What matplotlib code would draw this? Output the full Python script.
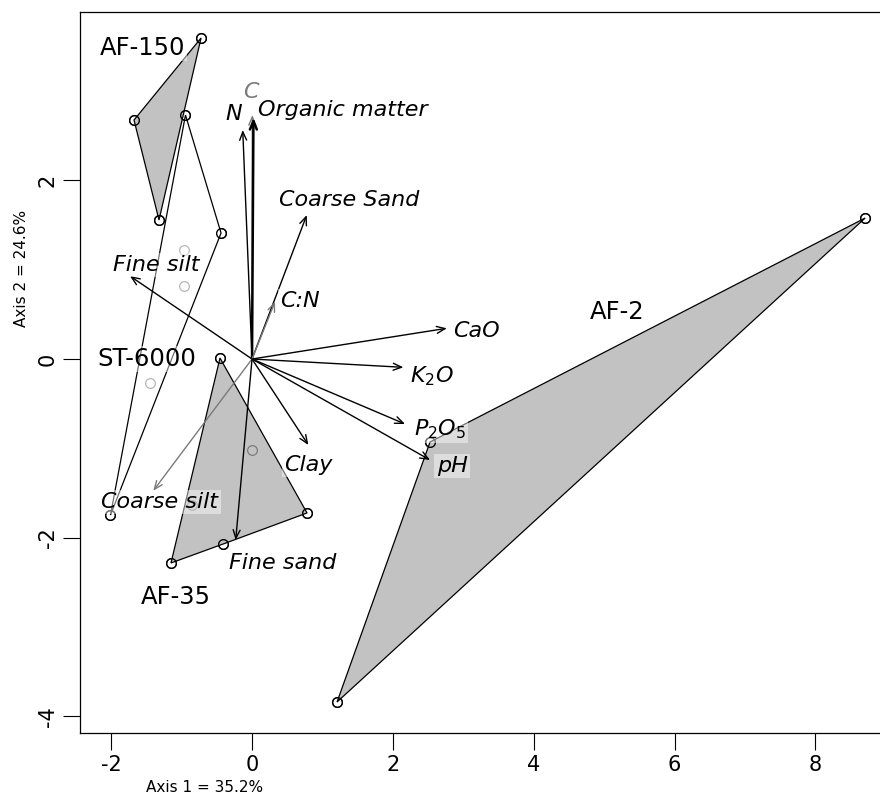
import numpy as np
import matplotlib.pyplot as plt
from matplotlib.patches import Polygon

plt.rcParams['font.family'] = ['DejaVu Sans']

# site scores per group (axis 1, axis 2)
af150_x = [-0.724, -1.676, -1.321]
af150_y = [3.595, 2.676, 1.557]
af150_hull = [0, 1, 2]

st6000_x = [-0.945, -0.440, -2.010, -0.966, -0.966, -1.449]
st6000_y = [2.732, 1.411, -1.747, 1.221, 0.817, -0.269]
st6000_hull = [0, 1, 2]

af35_x = [-0.455, 0.781, -0.412, -1.151, 0.000, -0.852]
af35_y = [0.011, -1.724, -2.072, -2.284, -1.019, -1.635]
af35_hull = [0, 1, 2, 3]

af2_x = [2.528, 8.707, 1.207]
af2_y = [-0.929, 1.579, -3.841]
af2_hull = [0, 1, 2]

group_names = ['AF-150', 'ST-6000', 'AF-35', 'AF-2']
group_label_x = [-1.55, -1.49, -1.08, 5.19]
group_label_y = [3.48, 0.00, -2.67, 0.53]

# environmental vectors
vec_names = ['N', 'C', 'Organic matter', 'Coarse Sand', 'Fine silt', 'C:N', 'CaO',
             '$K_2O$', '$P_2O_5$', 'pH', 'Clay', 'Coarse silt', 'Fine sand']
vec_x = [-0.132, 0.004, 0.020, 0.777, -1.733, 0.327, 2.766,
         2.149, 2.173, 2.528, 0.800, -1.402, -0.232]
vec_y = [2.564, 2.732, 2.700, 1.612, 0.929, 0.642, 0.344,
         -0.093, -0.728, -1.131, -0.963, -1.475, -2.027]
vec_label_x = [-0.256, -0.014, 1.293, 1.378, -1.364, 0.682, 3.182,
               2.557, 2.671, 2.841, 0.795, -1.307, 0.440]
vec_label_y = [2.744, 2.990, 2.788, 1.781, 1.053, 0.650, 0.314,
               -0.190, -0.784, -1.198, -1.187, -1.602, -2.284]
vec_grey = ['C', 'C:N', 'Coarse silt']

fig = plt.figure(figsize=(8.8, 8.01), dpi=100)
ax = fig.add_axes([80 / 880, 1 - 733 / 801, 802 / 880, 721 / 801])

groups = [
    (af150_x, af150_y, af150_hull, '#ababab'),
    (st6000_x, st6000_y, st6000_hull, 'white'),
    (af35_x, af35_y, af35_hull, '#ababab'),
    (af2_x, af2_y, af2_hull, '#ababab'),
]
for gx, gy, hull, fc in groups:
    ax.plot(gx, gy, 'o', mfc='none', mec='black', ms=7, mew=0.9, zorder=1)
    verts = np.column_stack([np.take(gx, hull), np.take(gy, hull)])
    ax.add_patch(Polygon(verts, closed=True, facecolor=fc, alpha=0.72,
                         edgecolor='none', zorder=2))
    ax.add_patch(Polygon(verts, closed=True, facecolor='none',
                         edgecolor='black', lw=0.9, zorder=3))
    ax.plot(verts[:, 0], verts[:, 1], 'o', mfc='none', mec='black',
            ms=7, mew=0.9, zorder=3)

for name, lx, ly in zip(group_names, group_label_x, group_label_y):
    ax.text(lx, ly, name, fontsize=17.5, ha='center', va='center', zorder=5,
            bbox=dict(boxstyle='square,pad=0.05', fc='white', ec='none', alpha=0.45))

for name, x, y, lx, ly in zip(vec_names, vec_x, vec_y, vec_label_x, vec_label_y):
    col = '#7a7a7a' if name in vec_grey else 'black'
    lw = 1.8 if name == 'Organic matter' else 1.0
    ax.annotate('', xy=(x, y), xytext=(0, 0), zorder=4,
                arrowprops=dict(arrowstyle='->,head_length=0.6,head_width=0.25',
                                color=col, lw=lw, shrinkA=0, shrinkB=0))
    ax.text(lx, ly, name, fontsize=16, style='italic', ha='center', va='center',
            color=col if name == 'C' else 'black', zorder=5,
            bbox=dict(boxstyle='square,pad=0.1', fc='white', ec='none', alpha=0.45))

ax.set_xlim(-2.443, 8.946)
ax.set_ylim(-4.188, 3.886)
ax.set_xticks([-2, 0, 2, 4, 6, 8])
ax.set_yticks([-4, -2, 0, 2])
ax.set_yticklabels(['-4', '-2', '0', '2'], rotation=90, va='center')
ax.set_xticklabels(['-2', '0', '2', '4', '6', '8'])
ax.tick_params(direction='out', length=12, width=0.8, labelsize=15, pad=4)
for s in ax.spines.values():
    s.set_linewidth(0.9)

fig.text(205 / 880, 1 - 787 / 801, 'Axis 1 = 35.2%', fontsize=11, ha='center', va='center')
fig.text(22 / 880, 1 - 268 / 801, 'Axis 2 = 24.6%', fontsize=11, ha='center',
         va='center', rotation=90)

fig.savefig('out.png', dpi=100)
